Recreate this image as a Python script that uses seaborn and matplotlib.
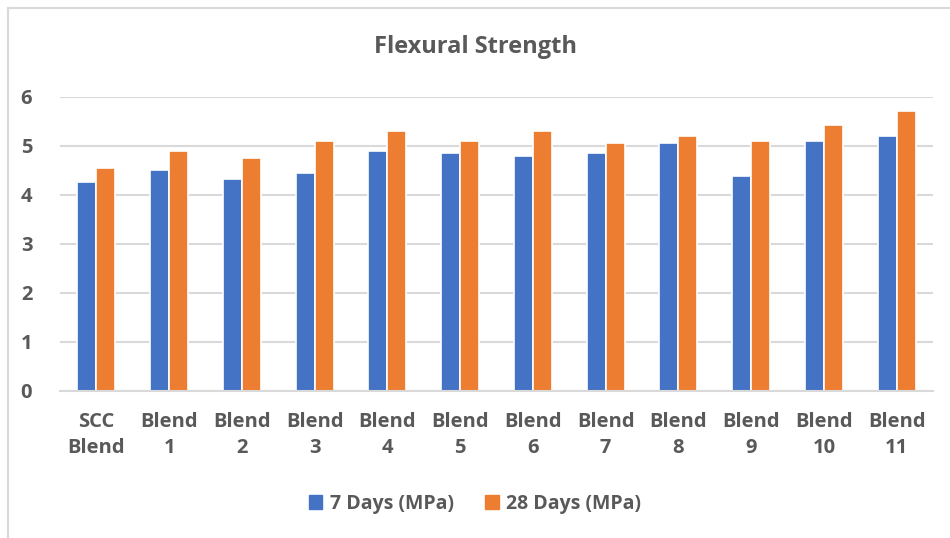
import matplotlib
matplotlib.use("Agg")
import matplotlib.pyplot as plt
from matplotlib.lines import Line2D
import seaborn as sns
import pandas as pd

categories = ["SCC\nBlend", "Blend\n1", "Blend\n2", "Blend\n3", "Blend\n4", "Blend\n5",
              "Blend\n6", "Blend\n7", "Blend\n8", "Blend\n9", "Blend\n10", "Blend\n11"]
days7 = [4.25, 4.5, 4.32, 4.45, 4.9, 4.85, 4.8, 4.85, 5.05, 4.38, 5.1, 5.2]
days28 = [4.55, 4.9, 4.75, 5.1, 5.3, 5.1, 5.3, 5.05, 5.2, 5.1, 5.42, 5.7]
series_names = ["7 Days (MPa)", "28 Days (MPa)"]
colors = ["#4472C4", "#ED7D31"]
yticks = [0, 1, 2, 3, 4, 5, 6]
title = "Flexural Strength"

df = pd.DataFrame({
    "cat": categories * 2,
    "val": days7 + days28,
    "series": [series_names[0]] * len(categories) + [series_names[1]] * len(categories),
})

sns.set_theme(style="white")
plt.rcParams["font.family"] = ["Open Sans", "DejaVu Sans"]
text_color = "#595959"

fig = plt.figure(figsize=(9.5, 5.38), dpi=100)
ax = fig.add_axes([60 / 950, 1 - 390.7 / 538, (933 - 60) / 950, (390.7 - 96.7) / 538])

sns.barplot(data=df, x="cat", y="val", hue="series", palette=colors, width=0.52,
            edgecolor="white", linewidth=1.2, ax=ax, legend=True, saturation=1)

ax.set_ylim(0, 6)
ax.set_xlim(-0.5, len(categories) - 0.5)
ax.set_yticks(yticks)
ax.yaxis.grid(True, color="#D9D9D9", linewidth=1.5)
ax.set_axisbelow(True)
for s in ["top", "right", "left"]:
    ax.spines[s].set_visible(False)
ax.spines["bottom"].set_color("#D9D9D9")
ax.spines["bottom"].set_linewidth(1.5)
ax.set_xlabel("")
ax.set_ylabel("")
ax.tick_params(axis="x", length=0, pad=15, labelsize=14.5, labelcolor=text_color)
ax.tick_params(axis="y", length=0, pad=20, labelsize=14.5, labelcolor=text_color)
for lab in ax.get_xticklabels() + ax.get_yticklabels():
    lab.set_fontweight("bold")
    lab.set_linespacing(1.4)

ax.legend_.remove()
handles = [plt.Rectangle((0, 0), 1, 1, color=c) for c in colors]
fig.legend(handles, series_names, loc="center", bbox_to_anchor=(0.5, 1 - 504 / 538),
           ncol=2, frameon=False, handlelength=0.7, handleheight=0.7, handletextpad=0.4,
           columnspacing=1.6, prop={"size": 14, "weight": "bold"}, labelcolor=text_color)

fig.text(0.5, 1 - 47 / 538, title, ha="center", va="center", fontsize=17,
         fontweight="bold", color=text_color)

# chart border (top & left visible)
fig.add_artist(Line2D([8 / 950, 1], [1 - 8 / 538, 1 - 8 / 538], color="#D9D9D9", linewidth=1.5,
                      transform=fig.transFigure))
fig.add_artist(Line2D([8 / 950, 8 / 950], [0, 1 - 8 / 538], color="#D9D9D9", linewidth=1.5,
                      transform=fig.transFigure))

fig.savefig("out.png", dpi=100)
